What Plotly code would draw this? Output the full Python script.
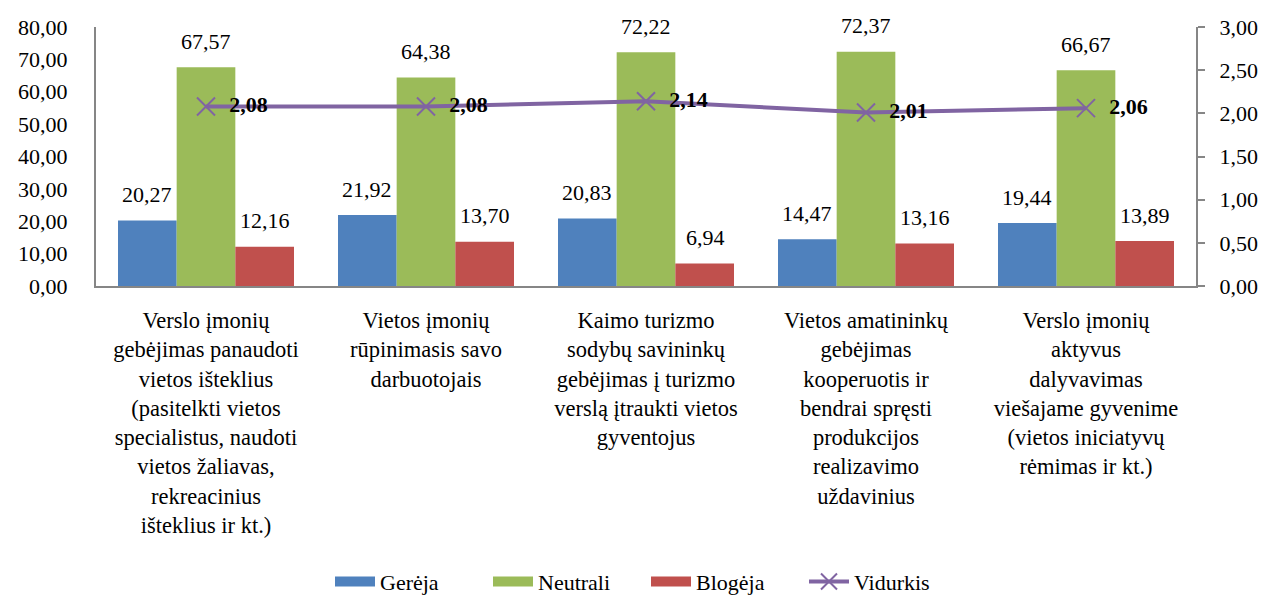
import plotly.graph_objects as go

categories = [
    "Verslo įmonių<br>gebėjimas panaudoti<br>vietos išteklius<br>(pasitelkti vietos<br>specialistus, naudoti<br>vietos žaliavas,<br>rekreacinius<br>išteklius ir kt.)",
    "Vietos įmonių<br>rūpinimasis savo<br>darbuotojais",
    "Kaimo turizmo<br>sodybų savininkų<br>gebėjimas į turizmo<br>verslą įtraukti vietos<br>gyventojus",
    "Vietos amatininkų<br>gebėjimas<br>kooperuotis ir<br>bendrai spręsti<br>produkcijos<br>realizavimo<br>uždavinius",
    "Verslo įmonių<br>aktyvus<br>dalyvavimas<br>viešajame gyvenime<br>(vietos iniciatyvų<br>rėmimas ir kt.)",
]
gereja = [20.27, 21.92, 20.83, 14.47, 19.44]
neutrali = [67.57, 64.38, 72.22, 72.37, 66.67]
blogeja = [12.16, 13.70, 6.94, 13.16, 13.89]
vidurkis = [2.08, 2.08, 2.14, 2.01, 2.06]
left_ticks = [0, 10, 20, 30, 40, 50, 60, 70, 80]
right_ticks = [0, 0.5, 1.0, 1.5, 2.0, 2.5, 3.0]


def lt(v):
    return f"{v:.2f}".replace(".", ",")


FONT = "serif"
fs = 22
x = list(range(len(categories)))
series = [("Gerėja", gereja, "#4F81BD"), ("Neutrali", neutrali, "#9BBB59"), ("Blogėja", blogeja, "#C0504D")]

fig = go.Figure()
for name, vals, col in series:
    fig.add_trace(go.Bar(x=x, y=vals, name=name, showlegend=False,
                         marker=dict(color=col, line=dict(width=0))))
for k, (name, vals, col) in enumerate(series):
    for i, v in enumerate(vals):
        fig.add_annotation(x=i, y=v, xref="x", yref="y", text=lt(v),
                           showarrow=False, xshift=(k - 1) * 59, yshift=26, yanchor="middle",
                           font=dict(family=FONT, size=fs, color="black"))
fig.add_trace(go.Scatter(
    x=x, y=vidurkis, name="Vidurkis", yaxis="y2", mode="lines+markers+text", showlegend=False,
    line=dict(color="#8064A2", width=4),
    marker=dict(symbol="x-thin", size=18, line=dict(color="#8064A2", width=2)),
    text=["\u00a0\u00a0<b>" + lt(v) + "</b>" for v in vidurkis], textposition="middle right",
    textfont=dict(family=FONT, size=fs, color="black"), cliponaxis=False,
))
for name, vals, col in series:
    fig.add_trace(go.Scatter(x=[None], y=[None], name=name, mode="lines",
                             line=dict(color=col, width=12)))
fig.add_trace(go.Scatter(x=[None], y=[None], name="Vidurkis", mode="lines+markers", yaxis="y2",
                         line=dict(color="#8064A2", width=4),
                         marker=dict(symbol="x-thin", size=16, line=dict(color="#8064A2", width=2))))

fig.update_layout(
    width=1270, height=597,
    margin=dict(l=96, r=74, t=27, b=311, autoexpand=False),
    paper_bgcolor="white", plot_bgcolor="white",
    barmode="group", bargap=0.2, bargroupgap=0,
    font=dict(family=FONT, size=fs, color="black"),
    showlegend=True,
    legend=dict(orientation="h", x=0.5, xanchor="center", y=-1.142, yanchor="middle",
                font=dict(family=FONT, size=fs), itemwidth=40, tracegroupgap=0,
                entrywidth=103),
    xaxis=dict(tickmode="array", tickvals=x, ticktext=categories, range=[-0.5, 4.5],
               showline=True, linecolor="#868686", linewidth=2, ticks="", ticklabelstandoff=13,
               tickfont=dict(family=FONT, size=22.5), tickangle=0, showgrid=False),
    yaxis=dict(range=[0, 80], tickmode="array", tickvals=left_ticks, ticktext=[lt(v) for v in left_ticks],
               showline=True, linecolor="#868686",
               linewidth=2, showgrid=False, zeroline=False, ticks="", ticklabelstandoff=22,
               tickfont=dict(family=FONT, size=fs)),
    yaxis2=dict(range=[0, 3], tickmode="array", tickvals=right_ticks, ticktext=[lt(v) for v in right_ticks],
                overlaying="y", side="right",
                showline=True, linecolor="#868686", linewidth=2, showgrid=False, zeroline=False,
                ticks="outside", ticklen=7, tickcolor="#868686", tickwidth=2, ticklabelstandoff=10,
                tickfont=dict(family=FONT, size=fs)),
)
fig.write_html("out.html", config={"displayModeBar": False},
               post_script="document.body.style.margin='0';")
